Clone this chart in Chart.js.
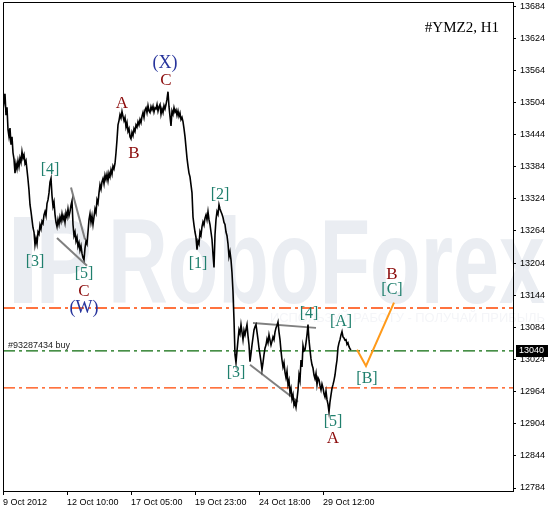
<!DOCTYPE html>
<html lang="en">
<head>
<meta charset="UTF-8">
<title>#YMZ2, H1</title>
<style>
  html, body { margin: 0; padding: 0; background: #fff; }
  canvas { display: block; }
</style>
</head>
<body>
<script src="https://cdn.jsdelivr.net/npm/chart.js@4.4.0/dist/chart.umd.min.js"></script>
<canvas id="chart" width="554" height="509"></canvas>
<script>
// H1 closes, one per bar (bar 0 = 9 Oct 2012)
const closes = [
  13528, 13505, 13520, 13480, 13495, 13453, 13440, 13456, 13425, 13440,
  13410, 13398, 13372, 13390, 13380, 13395, 13384, 13400, 13392, 13412,
  13400, 13406, 13390, 13395, 13378, 13360, 13340, 13313, 13300, 13285,
  13270, 13262, 13238, 13250, 13240, 13262, 13258, 13275, 13268, 13282,
  13278, 13294, 13300, 13292, 13315, 13322, 13335, 13355, 13362, 13330,
  13310, 13318, 13295, 13280, 13272, 13285, 13276, 13290, 13282, 13296,
  13285, 13292, 13280, 13298, 13290, 13305, 13292, 13300, 13312, 13320,
  13276, 13255, 13262, 13245, 13252, 13235, 13242, 13228, 13236, 13222,
  13214, 13210, 13232, 13245, 13240, 13262, 13285, 13296, 13280, 13292,
  13276, 13290, 13305, 13298, 13322, 13316, 13335, 13350, 13342, 13356,
  13362, 13352, 13368, 13360, 13370, 13358, 13372, 13365, 13378, 13370,
  13385, 13380, 13390, 13410, 13434, 13462, 13470, 13481, 13475, 13487,
  13478, 13470, 13476, 13458, 13466, 13450, 13455, 13440, 13436, 13448,
  13442, 13455, 13450, 13462, 13458, 13468, 13462, 13472, 13466, 13478,
  13485, 13476, 13490, 13494, 13485, 13498, 13488, 13485, 13496, 13490,
  13497, 13486, 13494, 13492, 13500, 13488, 13496, 13500, 13482, 13492,
  13485, 13498, 13492, 13500, 13510, 13524, 13496, 13478, 13460, 13488,
  13482, 13494, 13486, 13490, 13480, 13488, 13478, 13484, 13472, 13476,
  13468, 13455, 13440, 13420, 13400, 13385, 13372, 13365, 13350, 13335,
  13290, 13275, 13262, 13252, 13229, 13245, 13240, 13262, 13256, 13272,
  13281, 13275, 13288, 13294, 13285, 13300, 13285, 13276, 13262, 13248,
  13220, 13196, 13257, 13285, 13300, 13295, 13313, 13305, 13300, 13295,
  13289, 13280, 13276, 13262, 13255, 13240, 13216, 13225, 13210, 13186,
  13150, 13098, 13033, 13018, 13040, 13060, 13079, 13072, 13089, 13075,
  13061, 13078, 13070, 13080, 13089, 13068, 13051, 13020, 13035, 13051,
  13065, 13079, 13085, 13089, 13075, 13061, 13045, 13033, 13020, 13005,
  13018, 13033, 13045, 13051, 13062, 13055, 13070, 13060, 13051, 13058,
  13066, 13061, 13075, 13083, 13088, 13094, 13075, 13061, 13040, 13023,
  13010, 13018, 13000, 12990, 13002, 12977, 12985, 12962, 12970, 12950,
  12958, 12939, 12945, 12935, 12950, 12967, 12995, 12985, 13023, 13010,
  13050, 13040, 13042, 13055, 13070, 13089, 13060, 13042, 13025, 13014,
  13008, 12995, 12988, 12998, 12977, 12990, 12986, 12975, 12967, 12978,
  12971, 12960, 12954, 12965, 12949, 12940, 12926, 12945, 12958, 12970,
  12977, 12985, 12995, 13010, 13023, 13046, 13055, 13061, 13070, 13076,
  13066, 13064, 13060, 13061, 13052, 13055, 13048, 13044, 13042
];

const xTickBars = [0, 64, 128, 192, 256, 320];
const xTickLabels = ['9 Oct 2012', '12 Oct 10:00', '17 Oct 05:00', '19 Oct 23:00', '24 Oct 18:00', '29 Oct 12:00'];
const yTicks = [12784, 12844, 12904, 12964, 13024, 13084, 13144, 13204, 13264, 13324, 13384, 13444, 13504, 13564, 13624, 13684];

const lastPrice = 13040;
const buyLevel = 13040;
const orangeLevels = [13120, 12971];

// orange forecast zigzag
const forecastBars = [354, 363, 391];
const forecastVals = [13042, 13012, 13130];

// gray trend lines: [start bar, end bar], [start price, end price]
const trendBars = [[54, 84], [68, 82], [250, 313], [247, 295]];
const trendVals = [[13251, 13199], [13345, 13248], [13092, 13083], [13014, 12945]];

// wave labels
const waveText = ['(X)', 'C', 'A', 'B', '[4]', '[3]', '[5]', 'C', '(W)', '[2]', '[1]', '[3]', '[4]', '[A]', '[5]', 'A', '[B]', 'B', '[C]'];
const waveBar  = [162, 163, 119, 131, 47, 32, 81, 81, 81, 217, 195, 233, 306, 338, 330, 330, 364, 389, 389];
const waveVal  = [13578, 13545, 13502, 13408, 13378, 13206, 13184, 13150, 13120, 13332, 13203, 12999, 13109, 13094, 12907, 12877, 12988, 13182, 13154];
const waveKind = ['b', 'r', 'r', 'r', 'w', 'w', 'w', 'r', 'b', 'w', 'w', 'w', 'w', 'w', 'w', 'r', 'w', 'r', 'w'];

const kindColor = { w: '#1f7f6d', r: '#8b0a0a', b: '#27349c' };
const kindFont = { w: '16px', r: '17px', b: '18px' };

const pricePts = closes.map((v, i) => ({ x: i, y: v }));
const line = (xs, ys) => xs.map((x, i) => ({ x: x, y: ys[i] }));

const datasets = [
  { data: pricePts, borderColor: '#000', borderWidth: 1.6, order: 1 },
  { data: line(forecastBars, forecastVals), borderColor: '#ff9a1a', borderWidth: 2, order: 2 }
];
trendBars.forEach((b, i) => {
  datasets.push({ data: line(b, trendVals[i]), borderColor: '#808080', borderWidth: 2, order: 4 });
});
orangeLevels.forEach(v => {
  datasets.push({ data: line([0, 510], [v, v]), borderColor: '#ff4500', borderWidth: 1.4, borderDash: [12, 4, 3, 4], order: 5 });
});
datasets.push({ data: line([0, 510], [buyLevel, buyLevel]), borderColor: '#0b6b0b', borderWidth: 1.4, borderDash: [12, 4, 3, 4], order: 5 });
datasets.forEach(d => { d.pointRadius = 0; d.tension = 0; d.fill = false; });

const tickFont = { family: '"Liberation Sans", Arial, sans-serif', size: 9 };

const decor = {
  id: 'decor',
  beforeDraw(chart) {
    const c = chart.ctx;
    c.save();
    c.fillStyle = '#fff';
    c.fillRect(0, 0, chart.width, chart.height);
    // RoboForex watermark
    c.fillStyle = '#eaedf2';
    c.fillRect(14, 217, 18, 86);
    c.font = 'bold 120px "Liberation Sans"';
    c.textBaseline = 'alphabetic';
    c.save(); c.translate(36, 303); c.scale(0.7, 1); c.fillText('P', 0, 0); c.restore();
    c.save(); c.translate(108, 303); c.scale(0.69, 1); c.fillText('RoboForex', 0, 0); c.restore();
    c.fillStyle = '#f4f5f8';
    c.font = '13px "Liberation Sans"';
    c.fillText('ИСПОЛЬЗУЙ РАБОТУ - ПОЛУЧАЙ ПРИБЫЛЬ', 270, 322, 275);
    c.restore();
  },
  afterDraw(chart) {
    const c = chart.ctx, a = chart.chartArea;
    const xs = chart.scales.x, ys = chart.scales.y;
    c.save();
    c.strokeStyle = '#000';
    c.lineWidth = 1;
    c.beginPath();
    c.moveTo(a.left + 0.5, a.bottom);
    c.lineTo(a.left + 0.5, a.top + 0.5);
    c.lineTo(a.right, a.top + 0.5);
    c.stroke();

    c.textAlign = 'center';
    c.textBaseline = 'middle';
    waveText.forEach((t, i) => {
      const k = waveKind[i];
      c.font = kindFont[k] + ' "Liberation Serif", "Times New Roman", serif';
      c.fillStyle = kindColor[k];
      c.fillText(t, xs.getPixelForValue(waveBar[i]), ys.getPixelForValue(waveVal[i]));
    });

    c.textAlign = 'right';
    c.textBaseline = 'alphabetic';
    c.fillStyle = '#000';
    c.font = '15px "Liberation Serif", "Times New Roman", serif';
    c.fillText('#YMZ2, H1', 499, 32);

    const by = ys.getPixelForValue(buyLevel);
    c.textAlign = 'left';
    c.fillStyle = '#222';
    c.font = '9px "Liberation Sans", Arial, sans-serif';
    c.fillText('#93287434 buy', 8, by - 3);

    const py = Math.round(ys.getPixelForValue(lastPrice));
    c.fillStyle = '#000';
    c.fillRect(a.right + 3, py - 6, 32, 12);
    c.fillStyle = '#fff';
    c.textBaseline = 'middle';
    c.fillText(String(lastPrice), a.right + 6, py);
    c.restore();
  }
};

new Chart(document.getElementById('chart'), {
  type: 'line',
  data: { datasets: datasets },
  options: {
    responsive: false,
    animation: false,
    layout: { padding: { left: 3, top: 2, right: 0, bottom: 0 } },
    plugins: { legend: { display: false }, tooltip: { enabled: false } },
    scales: {
      x: {
        type: 'linear',
        min: 0,
        max: 510,
        grid: { drawOnChartArea: false, tickLength: 4, color: '#000' },
        border: { color: '#000' },
        ticks: {
          autoSkip: false, maxRotation: 0, align: 'start', padding: 2,
          color: '#000', font: tickFont,
          callback: (v) => xTickLabels[xTickBars.indexOf(v)]
        },
        afterBuildTicks: (s) => { s.ticks = xTickBars.map(v => ({ value: v })); },
        afterFit: (s) => { s.height = 18; s.paddingLeft = 0; s.paddingRight = 0; }
      },
      y: {
        type: 'linear',
        position: 'right',
        min: 12778.4,
        max: 13691.5,
        grid: { drawOnChartArea: false, tickLength: 3, color: '#000' },
        border: { color: '#000' },
        ticks: {
          padding: 4, crossAlign: 'near', color: '#000', font: tickFont,
          callback: (v) => String(v)
        },
        afterBuildTicks: (s) => { s.ticks = yTicks.map(v => ({ value: v })); },
        afterFit: (s) => { s.width = 41; s.paddingTop = 0; s.paddingBottom = 0; }
      }
    }
  },
  plugins: [decor]
});
</script>
</body>
</html>
